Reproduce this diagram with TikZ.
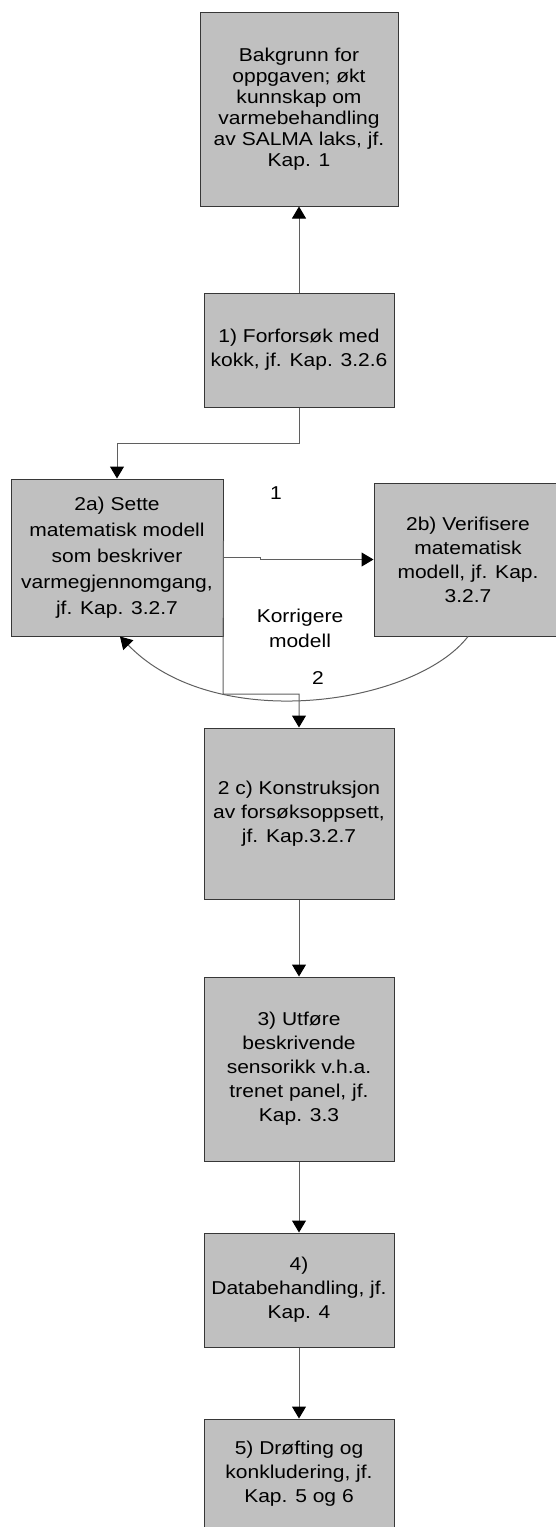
\documentclass[tikz,border=0pt]{standalone}
\usepackage{fontspec}
\setmainfont{Liberation Sans}[FakeStretch=1.13]
\usetikzlibrary{arrows.meta}
\definecolor{boxfill}{RGB}{192,192,192}
\definecolor{boxline}{RGB}{55,55,55}
\definecolor{connline}{RGB}{95,95,95}
\begin{document}
\begin{tikzpicture}[x=1pt,y=-1pt,
  stepbox/.style={draw=boxline,fill=boxfill,line width=1pt,inner sep=0pt,align=center,
    font=\fontsize{18.6}{24}\selectfont},
  lbl/.style={inner sep=0pt,align=center,font=\fontsize{18.6}{25}\selectfont},
  conn/.style={draw=connline,line width=1pt,-{Triangle[length=12pt,width=14pt,fill=black,color=black]}}]
\useasboundingbox (0,0) rectangle (555,1527);
\node[stepbox,minimum width=198pt,minimum height=194pt,font=\fontsize{18.6}{21}\selectfont] (b0) at (299,109)
  {Bakgrunn for\\oppgaven; økt\\kunnskap om\\varmebehandling\\av SALMA laks, jf.\\Kap. 1};
\node[stepbox,minimum width=190pt,minimum height=114pt] (b1) at (299,350)
  {1) Forforsøk med\\kokk, jf. Kap. 3.2.6};
\node[stepbox,minimum width=212pt,minimum height=157pt,font=\fontsize{18.6}{26}\selectfont] (b2a) at (117,557.5)
  {2a) Sette\\matematisk modell\\som beskriver\\varmegjennomgang,\\jf. Kap. 3.2.7};
\node[stepbox,minimum width=188pt,minimum height=153pt] (b2b) at (468,559.5)
  {2b) Verifisere\\matematisk\\modell, jf. Kap.\\3.2.7};
\node[stepbox,minimum width=190pt,minimum height=171pt] (b2c) at (299,813.5)
  {2 c) Konstruksjon\\av forsøksoppsett,\\jf. Kap.3.2.7};
\node[stepbox,minimum width=190pt,minimum height=184pt] (b3) at (299,1069)
  {3) Utføre\\beskrivende\\sensorikk v.h.a.\\trenet panel, jf.\\Kap. 3.3};
\node[stepbox,minimum width=190pt,minimum height=114pt] (b4) at (299,1290)
  {4)\\Databehandling, jf.\\Kap. 4};
\node[stepbox,minimum width=190pt,minimum height=110pt] (b5) at (299,1474)
  {5) Drøfting og\\konkludering, jf.\\Kap. 5 og 6};
\node[lbl] (l1) at (276,493) {1};
\node[lbl] (lk) at (300,628) {Korrigere\\modell};
\node[lbl] (l2) at (318,678) {2};
\draw[conn] (b1.north) -- (b0.south);
\draw[conn] (b1.south) -- ++(0,36) -| (b2a.north);
\draw[conn] (b2a.east) -- (260,557.5) -- (260,559.5) -- (b2b.west);
\draw[conn] ([yshift=96pt]b2a.south east) -- (223,694) -| (b2c.north);
\draw[conn] (b2b.south) .. controls (415,705) and (215,735) .. ([xshift=3pt]b2a.south);
\draw[conn] (b2c.south) -- (b3.north);
\draw[conn] (b3.south) -- (b4.north);
\draw[conn] (b4.south) -- (b5.north);
\end{tikzpicture}
\end{document}
